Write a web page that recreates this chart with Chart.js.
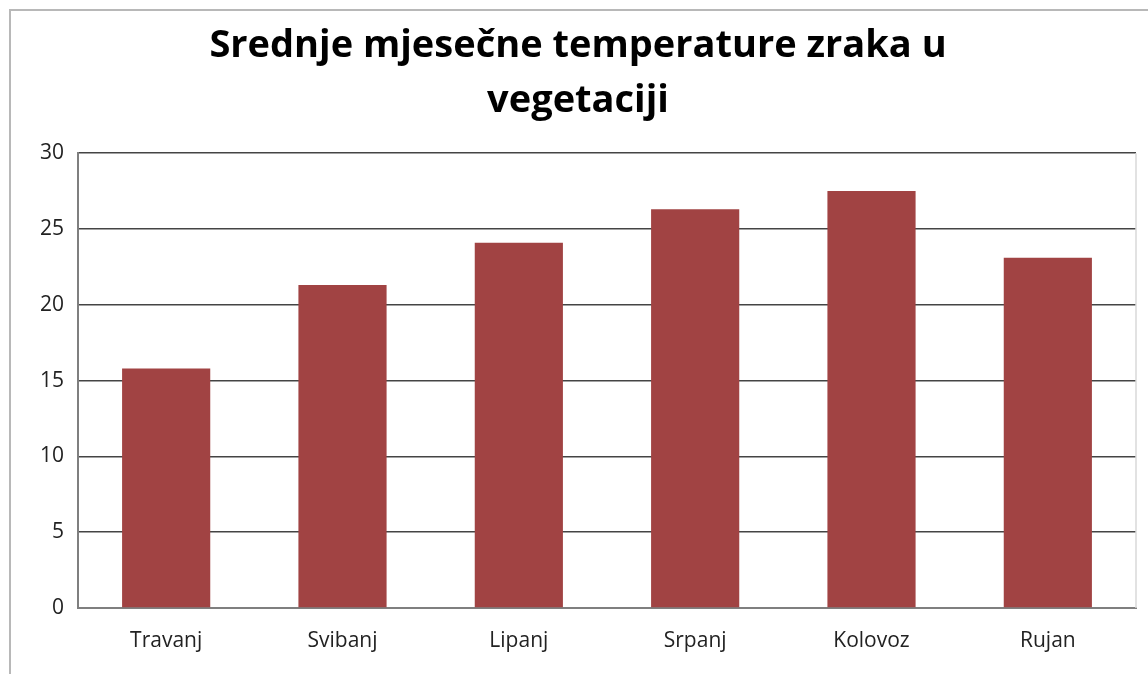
<!DOCTYPE html>
<html>
<head>
<meta charset="utf-8">
<script src="https://cdn.jsdelivr.net/npm/chart.js@4"></script>
<style>
  body { margin: 0; background: #fff; overflow: hidden; }
  #frame { position: absolute; left: 9px; top: 9px; width: 1200px; height: 700px; border: 2px solid #b8b8b8; }
  #c { position: absolute; left: 0; top: 0; }
</style>
</head>
<body>
<div id="frame"></div>
<canvas id="c" width="1148" height="674"></canvas>
<script>
// podaci
const mjeseci = ['Travanj', 'Svibanj', 'Lipanj', 'Srpanj', 'Kolovoz', 'Rujan'];
const temperature = [15.8, 21.3, 24.1, 26.3, 27.5, 23.1];
const naslov = ['Srednje mjesečne temperature zraka u', 'vegetaciji'];

// desni rub podrucja grafa
const desniRub = {
  id: 'desniRub',
  afterDraw(chart) {
    const { ctx, chartArea } = chart;
    ctx.save();
    ctx.strokeStyle = '#d9d9d9';
    ctx.lineWidth = 1.5;
    ctx.beginPath();
    ctx.moveTo(chartArea.right, chartArea.top);
    ctx.lineTo(chartArea.right, chartArea.bottom);
    ctx.stroke();
    ctx.restore();
  }
};

new Chart(document.getElementById('c'), {
  type: 'bar',
  data: {
    labels: mjeseci,
    datasets: [{
      data: temperature,
      backgroundColor: '#a14343',
      borderWidth: 0,
      barPercentage: 0.5,
      categoryPercentage: 1
    }]
  },
  plugins: [desniRub],
  options: {
    responsive: false,
    animation: false,
    layout: { padding: { left: 20, right: 12, top: 19, bottom: 0 } },
    plugins: {
      legend: { display: false },
      tooltip: { enabled: false },
      title: {
        display: true,
        text: naslov,
        color: '#000',
        font: { family: 'Open Sans', size: 38, weight: 'bold', lineHeight: 1.45 },
        padding: { top: 0, bottom: 24 }
      }
    },
    scales: {
      x: {
        grid: { display: false },
        border: { color: '#7f7f7f', width: 2 },
        ticks: { color: '#222', font: { family: 'Open Sans', size: 21 }, padding: 12 },
        afterFit(s) { s.height = 66; }
      },
      y: {
        min: 0,
        max: 30,
        ticks: { stepSize: 5, color: '#222', font: { family: 'Open Sans', size: 21 }, padding: 14 },
        grid: { color: '#444', lineWidth: 1.6, drawTicks: false },
        border: { color: '#7f7f7f', width: 2 },
        afterFit(s) { s.width = 58; }
      }
    }
  }
});
</script>
</body>
</html>
